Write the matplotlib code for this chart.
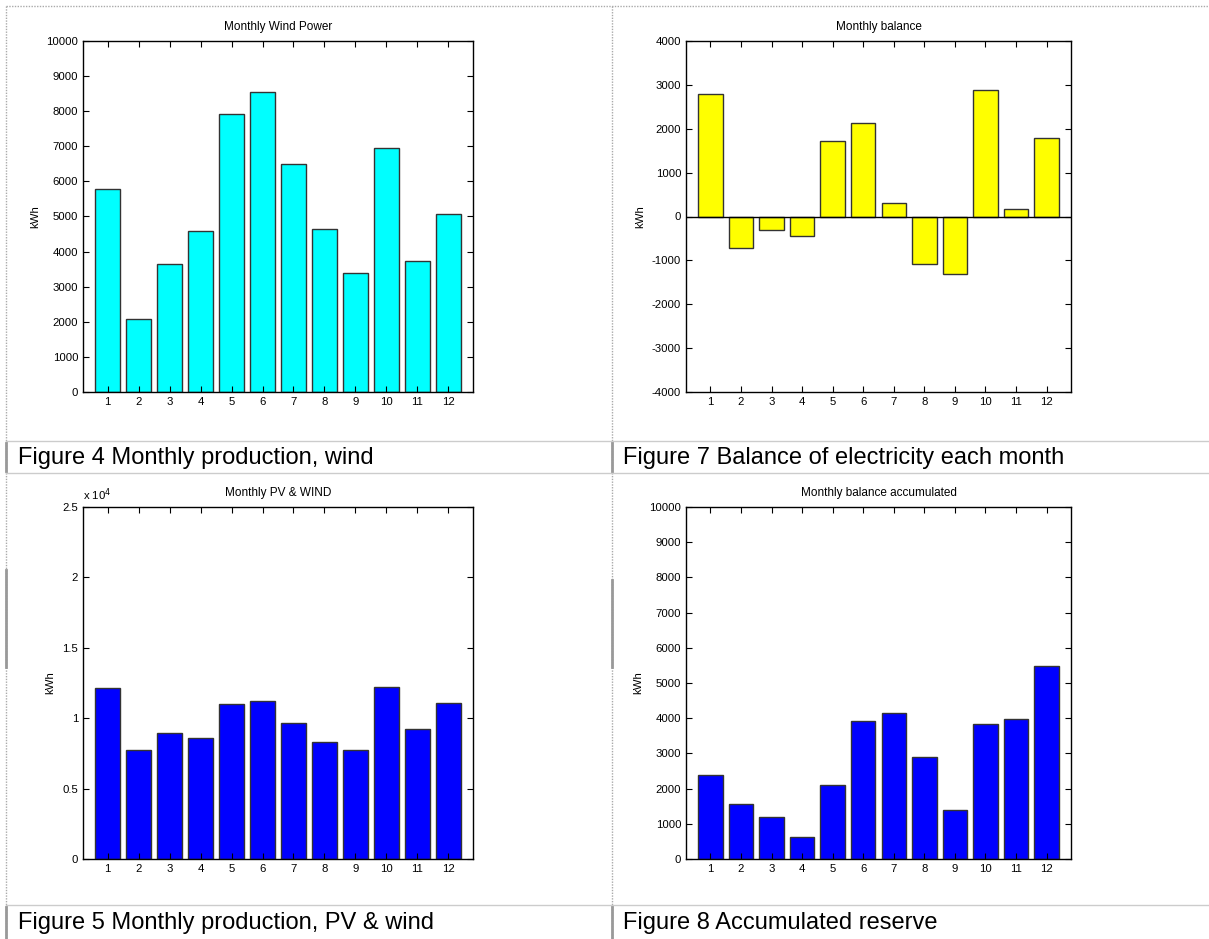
import matplotlib
matplotlib.use('Agg')
import matplotlib.pyplot as plt
from matplotlib.lines import Line2D
import matplotlib.ticker as ticker

plt.rcParams['font.family'] = ['Liberation Sans', 'DejaVu Sans']
plt.rcParams['axes.unicode_minus'] = False

months = list(range(1, 13))
wind = [5790, 2070, 3650, 4590, 7930, 8550, 6490, 4650, 3390, 6960, 3740, 5060]
balance = [2800, -710, -310, -450, 1720, 2140, 300, -1080, -1300, 2890, 180, 1800]
pv_wind = [12120, 7760, 8970, 8570, 11030, 11200, 9640, 8290, 7760, 12220, 9230, 11100]
accumulated = [2400, 1550, 1180, 620, 2090, 3920, 4160, 2900, 1380, 3840, 3980, 5490]

titles = ['Monthly Wind Power', 'Monthly balance', 'Monthly PV & WIND', 'Monthly balance accumulated']
captions = ['Figure 4 Monthly production, wind', 'Figure 7 Balance of electricity each month',
            'Figure 5 Monthly production, PV & wind', 'Figure 8 Accumulated reserve']

W, H = 1209, 939
fig = plt.figure(figsize=(W / 100, H / 100), dpi=100)


def px_axes(left, right, top, bottom):
    return fig.add_axes([left / W, 1 - bottom / H, (right - left) / W, (bottom - top) / H])


def style(ax, title, label_x):
    ax.set_xlim(0.2, 12.8)
    ax.set_xticks(months)
    ax.tick_params(direction='in', top=True, right=True, labelsize=8.2, length=4, width=0.8)
    for s in ax.spines.values():
        s.set_linewidth(1.0)
    ax.set_title(title, fontsize=8.5, pad=8)
    ax.set_ylabel('kWh', fontsize=8.2)
    ax.yaxis.set_label_coords(label_x, 0.5)


# top left
ax1 = px_axes(83, 473, 41, 392)
ax1.bar(months, wind, width=0.8, color='#00ffff', edgecolor='#333333', linewidth=1.0)
ax1.set_ylim(0, 10000)
ax1.set_yticks(range(0, 10001, 1000))
style(ax1, titles[0], -0.110)

# top right
ax2 = px_axes(686, 1071, 41, 392)
ax2.bar(months, balance, width=0.8, color='#ffff00', edgecolor='#333333', linewidth=1.0)
ax2.axhline(0, color='black', linewidth=1.0)
ax2.set_ylim(-4000, 4000)
ax2.set_yticks(range(-4000, 4001, 1000))
style(ax2, titles[1], -0.106)

# bottom left
ax3 = px_axes(83, 473, 507, 859)
ax3.bar(months, pv_wind, width=0.8, color='#0000ff', edgecolor='#333333', linewidth=1.0)
ax3.set_ylim(0, 25000)
ax3.set_yticks(range(0, 25001, 5000))
ax3.yaxis.set_major_formatter(ticker.FuncFormatter(lambda v, p: '%g' % (v / 1e4)))
style(ax3, titles[2], -0.072)
ax3.text(0.0, 1.012, r'x 10$^4$', transform=ax3.transAxes, fontsize=8.2, ha='left', va='bottom')

# bottom right
ax4 = px_axes(686, 1071, 507, 859)
ax4.bar(months, accumulated, width=0.8, color='#0000ff', edgecolor='#333333', linewidth=1.0)
ax4.set_ylim(0, 10000)
ax4.set_yticks(range(0, 10001, 1000))
style(ax4, titles[3], -0.112)

# captions
cap_pos = [(18, 458), (623, 458), (18, 923), (623, 923)]
for (x, y), c in zip(cap_pos, captions):
    fig.text(x / W, 1 - y / H, c, fontsize=17, ha='left', va='center')


# table cell borders
def hline(y, x0, x1, **kw):
    fig.add_artist(Line2D([x0 / W, x1 / W], [1 - y / H, 1 - y / H], transform=fig.transFigure, **kw))


def vline(x, y0, y1, **kw):
    fig.add_artist(Line2D([x / W, x / W], [1 - y0 / H, 1 - y1 / H], transform=fig.transFigure, **kw))


dot = dict(color='#aaaaaa', linewidth=1.0, linestyle=(0, (1, 1)))
solid = dict(color='#cccccc', linewidth=1.0)
hline(6, 6, W, **dot)
vline(6, 6, H, **dot)
vline(612, 6, H, **dot)
for y in (441, 473, 905):
    hline(y, 6, W, **solid)
# gray marks on the cell edges
gray = dict(color='#999999', linewidth=2.0)
vline(6, 443, 471, **gray)
vline(612, 443, 471, **gray)
vline(6, 570, 667, **gray)
vline(612, 580, 667, **gray)
vline(6, 907, H, **gray)
vline(612, 907, H, **gray)

fig.savefig('out.png', dpi=100)
